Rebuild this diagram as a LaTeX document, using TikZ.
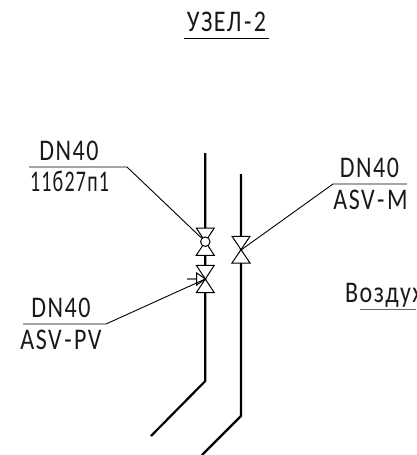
\documentclass[tikz,border=0pt]{standalone}
\usepackage{fontspec}
\setmainfont[LetterSpace=5,FakeStretch=0.8]{Carlito}
\newcommand{\dsh}{\kern2.5pt-\kern2.5pt}
\begin{document}
\begin{tikzpicture}[x=1pt,y=-1pt,
  pipe/.style={line width=2.2pt,line join=round},
  lead/.style={line width=0.9pt},
  lbl/.style={inner sep=0pt,font=\fontsize{30}{30}\selectfont,anchor=base,text=black!90},
  valve/.style={line width=1pt,fill=white}]
\useasboundingbox (0,0) rectangle (416,455);
\clip (0,0) rectangle (416,455);
% points
\coordinate (v1) at (205.3,241.7);
\coordinate (v2) at (205.3,279);
\coordinate (v3) at (241,250);
\coordinate (p1top) at (205.3,153);
\coordinate (p1bend) at (205.3,381);
\coordinate (p1end) at (151,436);
\coordinate (p2top) at (241,174);
\coordinate (p2bend) at (241,416);
\coordinate (p2end) at (202,455);
\coordinate (t1) at (184,38);
\coordinate (t2) at (269,38);
\coordinate (a1) at (29,167);
\coordinate (a2) at (127,167);
\coordinate (b1) at (23,324);
\coordinate (b2) at (106,324);
\coordinate (c1) at (333,184);
\coordinate (c2) at (407,184);
\coordinate (d1) at (360,309.5);
\coordinate (d2) at (416,309.5);
\coordinate (a3) at (201.5,238);
\coordinate (arr) at (196.7,279);
\coordinate (arrs) at (187,279);
% pipes
\draw[pipe] (p1top) -- (p1bend) -- (p1end);
\draw[pipe] (p2top) -- (p2bend) -- (p2end);
% valves
\draw[valve] (196.3,228) -- (214.3,228) -- (196.3,255.3) -- (214.3,255.3) -- cycle;
\draw[valve] (v1) circle (4.7);
\draw[valve] (196.3,265.3) -- (214.3,265.3) -- (196.3,292.7) -- (214.3,292.7) -- cycle;
\draw[valve] (232,236.3) -- (250,236.3) -- (232,263) -- (250,263) -- cycle;
% drive of second valve
\draw[line width=1.4pt,black!55] (arrs) -- (arr);
\draw[valve,fill=none] (196.7,273) -- (196.7,285) -- (v2) -- cycle;
% leaders and shelves
\draw[lead] (a1) -- (a2) -- (a3);
\draw[lead] (b1) -- (b2) -- (v2);
\draw[lead] (c2) -- (c1) -- (v3);
\draw[lead] (t1) -- (t2);
\draw[lead,black!60] (d1) -- (d2);
% labels
\node[lbl] (ttl) at (226.5,31) {УЗЕЛ\dsh 2};
\node[lbl] (a) at (69,160.7) {DN40};
\node[lbl,xscale=0.83] (a') at (69.5,191.7) {11б27п1};
\node[lbl] (b) at (61,317) {DN40};
\node[lbl] (b') at (61,349) {ASV\dsh PV};
\node[lbl] (c) at (369.5,177) {DN40};
\node[lbl] (c') at (370.5,209) {ASV\dsh M};
\node[lbl,anchor=base west] (v) at (345,302) {Воздух};
\end{tikzpicture}
\end{document}
